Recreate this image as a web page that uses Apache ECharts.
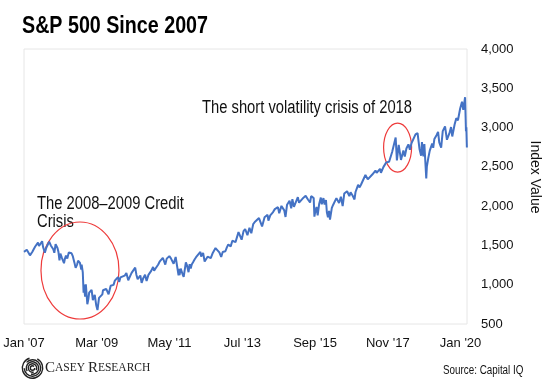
<!DOCTYPE html>
<html><head><meta charset="utf-8">
<script src="https://cdn.jsdelivr.net/npm/echarts@6/dist/echarts.min.js"></script>
<style>html,body{margin:0;padding:0;background:#fff}#c{width:550px;height:385px}</style>
</head><body><div id="c"></div>
<script>
var tickLabels = ["Jan '07","Mar '09","May '11","Jul '13","Sep '15","Nov '17","Jan '20"];
var dates = [
"2007-01-01","2007-01-15","2007-02-01","2007-02-20","2007-03-05","2007-03-15","2007-04-01","2007-04-15","2007-05-01","2007-05-15","2007-06-01","2007-06-12","2007-07-01","2007-07-16","2007-07-26","2007-08-01","2007-08-15","2007-09-01","2007-09-15","2007-10-01","2007-10-09","2007-10-19","2007-11-01","2007-11-15","2007-11-26","2007-12-10","2007-12-31",
"2008-01-10","2008-01-22","2008-02-01","2008-02-15","2008-03-01","2008-03-10","2008-03-20","2008-04-01","2008-04-15","2008-05-01","2008-05-19","2008-06-01","2008-06-15","2008-07-01","2008-07-15","2008-08-01","2008-08-11","2008-09-01","2008-09-15","2008-09-19","2008-10-01","2008-10-10","2008-10-13","2008-10-27","2008-11-04","2008-11-20","2008-12-01","2008-12-10","2008-12-31",
"2009-01-06","2009-01-20","2009-02-01","2009-02-09","2009-02-23","2009-03-09","2009-03-26","2009-04-15","2009-05-01","2009-05-08","2009-06-12","2009-07-08","2009-07-31","2009-08-15","2009-09-01","2009-09-15","2009-10-01","2009-10-19","2009-11-01","2009-11-15","2009-12-01","2009-12-31",
"2010-01-19","2010-02-08","2010-03-01","2010-03-15","2010-04-23","2010-05-06","2010-05-20","2010-06-01","2010-06-18","2010-07-02","2010-07-20","2010-08-09","2010-08-26","2010-09-15","2010-10-01","2010-10-15","2010-11-05","2010-11-16","2010-12-01","2010-12-31",
"2011-01-15","2011-02-01","2011-02-18","2011-03-16","2011-04-01","2011-04-29","2011-05-15","2011-06-15","2011-07-07","2011-07-22","2011-08-08","2011-08-15","2011-08-19","2011-09-01","2011-09-22","2011-10-03","2011-10-27","2011-11-10","2011-11-25","2011-12-07","2011-12-19","2011-12-30",
"2012-01-15","2012-02-01","2012-02-15","2012-03-01","2012-04-02","2012-04-10","2012-05-01","2012-05-18","2012-06-01","2012-06-19","2012-07-01","2012-07-24","2012-08-15","2012-09-14","2012-10-05","2012-10-26","2012-11-15","2012-12-01","2012-12-31",
"2013-01-15","2013-02-01","2013-02-25","2013-03-15","2013-04-01","2013-04-18","2013-05-21","2013-06-24","2013-07-15","2013-08-02","2013-08-27","2013-09-18","2013-10-08","2013-10-29","2013-11-15","2013-12-03","2013-12-31",
"2014-01-15","2014-02-03","2014-02-28","2014-03-15","2014-04-02","2014-04-11","2014-05-01","2014-06-01","2014-06-20","2014-07-24","2014-08-07","2014-09-01","2014-09-18","2014-10-01","2014-10-15","2014-11-01","2014-11-28","2014-12-16","2014-12-29",
"2015-01-15","2015-02-01","2015-02-25","2015-03-10","2015-04-01","2015-04-27","2015-05-21","2015-06-15","2015-07-08","2015-07-20","2015-08-17","2015-08-25","2015-09-01","2015-09-17","2015-09-29","2015-10-15","2015-11-03","2015-11-13","2015-12-01","2015-12-14","2015-12-29",
"2016-01-08","2016-01-20","2016-02-01","2016-02-11","2016-03-01","2016-03-15","2016-04-20","2016-05-19","2016-06-08","2016-06-27","2016-07-15","2016-08-15","2016-09-09","2016-09-22","2016-10-15","2016-11-04","2016-11-15","2016-12-13","2016-12-30",
"2017-01-15","2017-02-01","2017-03-01","2017-03-27","2017-04-13","2017-05-15","2017-06-19","2017-07-01","2017-08-08","2017-08-18","2017-09-15","2017-10-15","2017-11-01","2017-11-15","2017-12-18","2017-12-29",
"2018-01-26","2018-02-08","2018-02-26","2018-03-09","2018-03-23","2018-04-02","2018-04-18","2018-05-03","2018-05-21","2018-06-12","2018-06-28","2018-07-15","2018-08-01","2018-08-29","2018-09-20","2018-10-11","2018-10-29","2018-11-07","2018-11-23","2018-12-03","2018-12-24","2018-12-31",
"2019-01-15","2019-02-01","2019-02-25","2019-03-08","2019-03-21","2019-04-15","2019-04-30","2019-05-13","2019-06-03","2019-06-20","2019-07-15","2019-07-26","2019-08-05","2019-08-15","2019-09-01","2019-09-19","2019-10-02","2019-10-28","2019-11-15","2019-12-03","2019-12-27",
"2020-01-17","2020-01-31","2020-02-19","2020-02-28","2020-03-03","2020-03-09"
];
var values = [
1418,1431,1445,1459,1374,1387,1420,1452,1486,1501,1536,1493,1503,1553,1482,1465,1406,1473,1484,1547,1565,1500,1508,1451,1407,1515,1468,
1420,1310,1395,1349,1330,1273,1329,1370,1334,1409,1426,1400,1360,1284,1214,1260,1305,1277,1192,1255,1161,899,1003,848,1005,752,816,899,903,
935,805,825,870,743,677,832,852,877,929,946,879,987,1004,998,1052,1030,1097,1036,1093,1108,1115,
1150,1057,1115,1150,1217,1128,1071,1070,1117,1023,1083,1127,1047,1125,1146,1176,1225,1178,1206,1258,
1293,1307,1343,1256,1332,1364,1338,1266,1353,1345,1119,1204,1123,1204,1130,1099,1285,1239,1159,1261,1205,1258,
1289,1324,1350,1374,1419,1358,1405,1295,1278,1357,1362,1338,1405,1466,1461,1411,1353,1416,1426,
1472,1513,1488,1560,1562,1541,1669,1573,1682,1709,1630,1725,1655,1771,1798,1795,1848,
1848,1742,1859,1841,1890,1815,1883,1924,1962,1988,1910,2003,2011,1946,1862,2018,2068,1973,2090,
1992,1995,2115,2044,2059,2108,2131,2085,2046,2128,2102,1867,1914,1990,1884,2023,2109,2023,2102,2021,2078,
1922,1859,1940,1829,1978,2015,2102,2040,2119,2000,2161,2190,2128,2177,2133,2085,2180,2271,2239,
2275,2280,2396,2341,2329,2402,2453,2423,2475,2425,2500,2557,2580,2565,2690,2674,
2873,2581,2780,2786,2588,2582,2708,2630,2733,2786,2717,2800,2813,2914,2930,2728,2641,2814,2633,2790,2351,2507,
2610,2707,2796,2743,2855,2906,2946,2812,2744,2955,3014,3025,2845,2848,2926,3006,2887,3039,3120,3093,3240,
3330,3225,3386,2954,3003,2746
];

function monthIndex(s){
  var p = s.split('-').map(Number);
  var dim = new Date(p[0], p[1], 0).getDate();
  return (p[0]-2007)*12 + (p[1]-1) + (p[2]-1)/dim;
}
var seriesData = dates.map(function(d,i){ return [monthIndex(d), values[i]]; });

var SANS = "'Liberation Sans',Arial,sans-serif";
var SERIF = "'Liberation Serif','Times New Roman',serif";
var chart = echarts.init(document.getElementById('c'));
var option = {
  animation:false,
  backgroundColor:'#fff',
  grid:{left:24,right:83,top:49,bottom:61,show:true,borderColor:'#e6e6e6',borderWidth:1,backgroundColor:'transparent'},
  xAxis:{type:'value',min:0,max:158.3,interval:26,
    axisLine:{show:false},axisTick:{show:false},splitLine:{show:false},
    axisLabel:{showMaxLabel:false,margin:13,color:'#111',fontSize:13,fontFamily:SANS,
      formatter:function(v){ var i=Math.round(v/26); return tickLabels[i]||''; }}},
  yAxis:{type:'value',position:'right',min:500,max:4000,interval:500,
    axisLine:{show:false},axisTick:{show:false},splitLine:{show:false},
    axisLabel:{margin:14,color:'#111',fontSize:13,fontFamily:SANS,
      formatter:function(v){ return v.toLocaleString('en-US'); }}},
  series:[{type:'line',data:seriesData,showSymbol:false,symbol:'none',
    lineStyle:{color:'#4472c4',width:2},clip:false}]
};
chart.setOption(option);

var e1 = chart.convertToPixel({gridIndex:0},[20,1181]);
var e2 = chart.convertToPixel({gridIndex:0},[133.5,2746]);
var spiral = [];
var rs=[2.2,4.2,6.2,8.2,10.2];
rs.forEach(function(r,i){
  spiral.push({type:'arc',shape:{cx:32.5,cy:368,r:r,startAngle:(i*1.3),endAngle:(i*1.3)+Math.PI*1.75},
    style:{stroke:'#222',lineWidth:1.4,fill:null}});
});
chart.setOption({graphic:[
  {type:'text',x:22,y:26,scaleX:0.82,style:{text:'S&P 500 Since 2007',fontSize:24,fontWeight:'bold',fontFamily:SANS,fill:'#000',verticalAlign:'middle'}},
  {type:'text',x:37,y:195,scaleX:0.82,style:{text:'The 2008\u20132009 Credit\nCrisis',fontSize:18,lineHeight:18,fontFamily:SANS,fill:'#111'}},
  {type:'text',x:202,y:99,scaleX:0.82,style:{text:'The short volatility crisis of 2018',fontSize:18,fontFamily:SANS,fill:'#111'}},
  {type:'text',x:535,y:177,rotation:-Math.PI/2,style:{text:'Index Value',fontSize:14,fontFamily:SANS,fill:'#111',align:'center',verticalAlign:'middle'}},
  {type:'ellipse',shape:{cx:e1[0],cy:e1[1],rx:39,ry:48.5},style:{stroke:'#ee3b3b',fill:null,lineWidth:1.2}},
  {type:'ellipse',shape:{cx:e2[0],cy:e2[1],rx:14,ry:24.5},style:{stroke:'#ee3b3b',fill:null,lineWidth:1.2}},
  {type:'group',children:spiral},
  {type:'text',x:45,y:368,style:{text:'{b|C}{s|ASEY }{b|R}{s|ESEARCH}',verticalAlign:'middle',
    rich:{b:{fontSize:15,fontFamily:SERIF,fill:'#222'},
          s:{fontSize:11.5,fontFamily:SERIF,fill:'#222'}}}},
  {type:'text',x:443,y:371,scaleX:0.82,style:{text:'Source: Capital IQ',fontSize:12,fontFamily:SANS,fill:'#111',verticalAlign:'middle'}}
]});
</script></body></html>
